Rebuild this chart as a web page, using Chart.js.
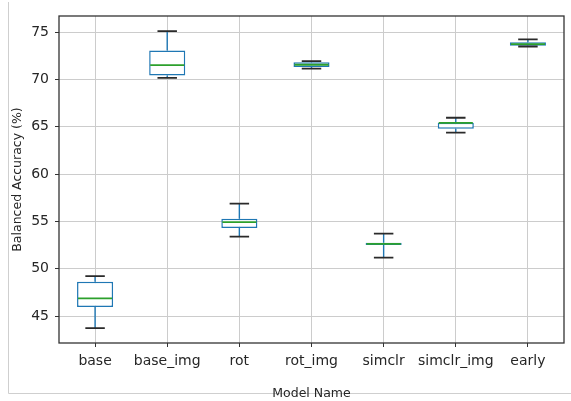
<!DOCTYPE html>
<html>
<head>
<meta charset="utf-8">
<script src="https://cdn.jsdelivr.net/npm/chart.js@4/dist/chart.umd.min.js"></script>
<style>
  html, body { margin: 0; padding: 0; background: #fff; }
  #wrap { width: 571px; height: 401px; }
</style>
</head>
<body>
<div id="wrap"><canvas id="box-canvas" width="571" height="401"></canvas></div>
<script>
// values
const categories = ['base', 'base_img', 'rot', 'rot_img', 'simclr', 'simclr_img', 'early']
const whiskerLow = [43.73, 70.17, 53.38, 71.15, 51.16, 64.37, 73.48]
const q1 = [45.95, 70.42, 54.29, 71.30, 52.50, 64.79, 73.55]
const median = [46.87, 71.50, 54.93, 71.55, 52.62, 65.40, 73.72]
const q3 = [48.63, 73.06, 55.29, 71.82, 52.75, 65.42, 73.93]
const whiskerHigh = [49.22, 75.10, 56.87, 71.93, 53.70, 65.95, 74.22]

const boxParts = {
  id: 'boxParts',
  beforeDraw(chart) {
    const ctx = chart.ctx
    ctx.save()
    ctx.strokeStyle = '#cfcfcf'
    ctx.lineWidth = 1
    ctx.beginPath()
    ctx.moveTo(8.5, 2)
    ctx.lineTo(8.5, 393.5)
    ctx.lineTo(571, 393.5)
    ctx.stroke()
    ctx.restore()
  },
  beforeDatasetsDraw(chart) {
    const ctx = chart.ctx
    const x = chart.scales.x
    const y = chart.scales.y
    ctx.save()
    ctx.strokeStyle = '#1f77b4'
    ctx.lineWidth = 1.4
    for (let i = 0; i < categories.length; i++) {
      const px = x.getPixelForValue(i)
      ctx.beginPath()
      ctx.moveTo(px, y.getPixelForValue(whiskerLow[i]))
      ctx.lineTo(px, y.getPixelForValue(q1[i]))
      ctx.moveTo(px, y.getPixelForValue(q3[i]))
      ctx.lineTo(px, y.getPixelForValue(whiskerHigh[i]))
      ctx.stroke()
    }
    ctx.restore()
  },
  afterDatasetsDraw(chart) {
    const ctx = chart.ctx
    const x = chart.scales.x
    const y = chart.scales.y
    const area = chart.chartArea
    const step = x.getPixelForValue(1) - x.getPixelForValue(0)
    const capHalf = step * 0.135
    const boxHalf = step * 0.25
    ctx.save()
    for (let i = 0; i < categories.length; i++) {
      const px = x.getPixelForValue(i)
      // caps
      ctx.strokeStyle = '#2a2a2a'
      ctx.lineWidth = 1.8
      ctx.beginPath()
      for (const v of [whiskerLow[i], whiskerHigh[i]]) {
        const py = y.getPixelForValue(v)
        ctx.moveTo(px - capHalf, py)
        ctx.lineTo(px + capHalf, py)
      }
      ctx.stroke()
      // median
      ctx.strokeStyle = '#2ca02c'
      ctx.lineWidth = 1.8
      ctx.beginPath()
      const my = y.getPixelForValue(median[i])
      ctx.moveTo(px - boxHalf + 1, my)
      ctx.lineTo(px + boxHalf - 1, my)
      ctx.stroke()
    }
    // axes frame
    ctx.strokeStyle = '#333'
    ctx.lineWidth = 1.3
    ctx.strokeRect(area.left, area.top, area.right - area.left, area.bottom - area.top)
    ctx.restore()
  }
}

const data = {
  labels: categories,
  datasets: [{
    label: 'boxes',
    data: categories.map((c, i) => [q1[i], q3[i]]),
    backgroundColor: '#ffffff',
    borderColor: '#1f77b4',
    borderWidth: 1.5,
    borderSkipped: false,
    barPercentage: 1,
    categoryPercentage: 0.5
  }]
}

const config = {
  type: 'bar',
  data: data,
  options: {
    responsive: false,
    animation: false,
    layout: { padding: { top: 16, right: 7, left: 0, bottom: 0 } },
    plugins: { legend: { display: false }, tooltip: { enabled: false } },
    scales: {
      x: {
        afterFit: s => { s.height = 58 },
        grid: { offset: false, color: '#cccccc', lineWidth: 1, tickLength: 4, tickColor: '#333' },
        border: { display: false },
        ticks: { autoSkip: false, color: '#262626', font: { family: 'DejaVu Sans', size: 14 }, padding: 6, maxRotation: 0 },
        title: { display: true, text: 'Model Name', color: '#262626', font: { family: 'DejaVu Sans', size: 12.5 }, padding: { top: 0, bottom: 0 } }
      },
      y: {
        min: 42.15,
        max: 76.7,
        afterFit: s => { s.width = 59 },
        grid: { color: '#cccccc', lineWidth: 1, tickLength: 4, tickColor: '#333' },
        border: { display: false },
        ticks: { stepSize: 5, includeBounds: false, color: '#262626', font: { family: 'DejaVu Sans', size: 14 }, padding: 6 },
        title: { display: true, text: 'Balanced Accuracy (%)', color: '#262626', font: { family: 'DejaVu Sans', size: 12.5 }, padding: { top: 10, bottom: 0 } }
      }
    }
  },
  plugins: [boxParts]
}

globalThis.boxChart = new Chart(document.getElementById('box-canvas'), config)
</script>
</body>
</html>
